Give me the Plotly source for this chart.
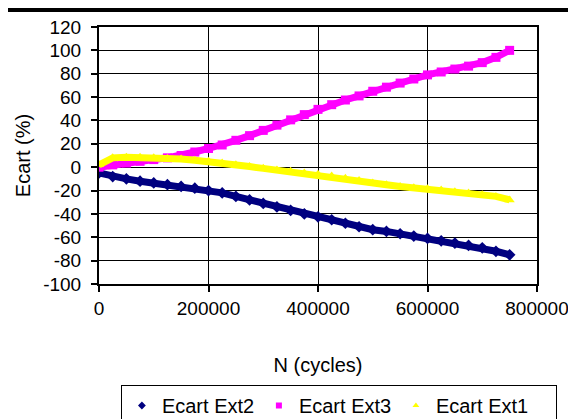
import plotly.graph_objects as go

N = [0, 25000, 50000, 75000, 100000, 125000, 150000, 175000, 200000, 225000,
     250000, 275000, 300000, 325000, 350000, 375000, 400000, 425000, 450000,
     475000, 500000, 525000, 550000, 575000, 600000, 625000, 650000, 675000,
     700000, 725000, 750000]

ext2 = [-5, -8, -10, -12, -13.5, -15, -16.5, -18, -20, -22, -25, -28, -31, -34,
        -37, -40, -42.5, -45, -48, -51, -53.5, -55, -57, -59, -61, -63, -65,
        -67, -69, -72, -75]

ext3 = [0, 2, 3.5, 5, 6.5, 8, 10, 13, 16, 19, 23, 27, 31.5, 36, 40.5, 45, 49.5,
        53.5, 57.5, 61, 65, 68.5, 72, 75.5, 79, 81.5, 84, 86.5, 89.5, 94, 100]

ext1 = [2, 8, 8.5, 8.5, 8, 7.5, 7, 6, 5, 3.5, 2, 0.5, -1, -2.5, -3.5, -5, -6,
        -7.5, -9.5, -11.5, -13.5, -15, -16.5, -17.5, -18.5, -19.5, -21, -22,
        -23.5, -25, -28]

y_tick_vals = [-100, -80, -60, -40, -20, 0, 20, 40, 60, 80, 100, 120]
y_tick_text = ["-100", "-80", "-60", "-40", "-20", "0", "20", "40", "60",
               "80", "100", "120"]
x_tick_vals = [0, 200000, 400000, 600000, 800000]
x_tick_text = ["0", "200000", "400000", "600000", "800000"]

series = [
    ("Ecart Ext2", ext2, "#000080", "diamond"),
    ("Ecart Ext3", ext3, "#FF00FF", "square"),
    ("Ecart Ext1", ext1, "#FFFF00", "triangle-up"),
]

FONT = "Liberation Sans, Arial, sans-serif"

fig = go.Figure()
for name, ys, col, sym in series:
    fig.add_trace(go.Scatter(
        x=N, y=ys, mode="lines+markers", name=name, showlegend=False,
        line=dict(color=col, width=7),
        marker=dict(color=col, symbol=sym, size=9),
    ))
legend_widths = [92, 92, 115]
for (name, ys, col, sym), lw in zip(series, legend_widths):
    fig.add_trace(go.Scatter(
        x=[None], y=[None], mode="markers", name=name, showlegend=True,
        legendwidth=lw,
        marker=dict(color=col, symbol=sym, size=6),
    ))

fig.update_layout(
    width=576, height=419,
    margin=dict(l=91, r=47, t=19, b=143, autoexpand=False),
    paper_bgcolor="white", plot_bgcolor="white",
    font=dict(family=FONT, size=19, color="black"),
    legend=dict(
        orientation="h", x=0.05, xanchor="left", y=-0.393, yanchor="top",
        bordercolor="black", borderwidth=1, font=dict(size=20),
        entrywidthmode="pixels", tracegroupgap=0, itemwidth=30,
    ),
    showlegend=True,
    shapes=[dict(type="rect", xref="paper", yref="paper",
                 x0=-0.5, x1=1.5, y0=1.058, y1=1.3,
                 fillcolor="black", line=dict(width=0), layer="above")],
)

fig.update_xaxes(
    range=[0, 800000], tickvals=x_tick_vals, ticktext=x_tick_text,
    showgrid=True, gridcolor="black", gridwidth=1,
    showline=True, linecolor="black", linewidth=2, mirror=True,
    ticks="outside", ticklen=6, tickcolor="black", tickwidth=1.5,
    zeroline=False, automargin=False,
    title=dict(text="N (cycles)", standoff=40, font=dict(size=20)),
)
fig.update_yaxes(
    range=[-100, 120], tickvals=y_tick_vals, ticktext=y_tick_text,
    showgrid=True, gridcolor="black", gridwidth=1,
    showline=True, linecolor="black", linewidth=2, mirror=True,
    ticks="outside", ticklen=6, tickcolor="black", tickwidth=1.5,
    zeroline=False, ticklabelstandoff=6, automargin=False,
    title=dict(text="Ecart (%)", standoff=7, font=dict(size=20)),
)

fig.write_html("out.html")
